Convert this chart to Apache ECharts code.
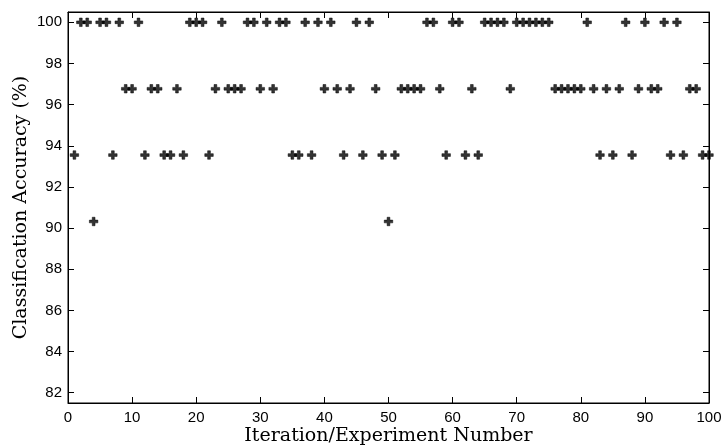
<!DOCTYPE html>
<html>
<head>
<meta charset="utf-8">
<style>
  html, body { margin: 0; padding: 0; background: #fff; }
  #chart { width: 722px; height: 448px; }
</style>
<script src="https://cdn.jsdelivr.net/npm/echarts@6/dist/echarts.min.js"></script>
</head>
<body>
<div id="chart"></div>
<script>
// Iteration numbers (1..100) and the accuracy reached in each run (%)
const iterations = [
  1, 2, 3, 4, 5, 6, 7, 8, 9, 10,
  11, 12, 13, 14, 15, 16, 17, 18, 19, 20,
  21, 22, 23, 24, 25, 26, 27, 28, 29, 30,
  31, 32, 33, 34, 35, 36, 37, 38, 39, 40,
  41, 42, 43, 44, 45, 46, 47, 48, 49, 50,
  51, 52, 53, 54, 55, 56, 57, 58, 59, 60,
  61, 62, 63, 64, 65, 66, 67, 68, 69, 70,
  71, 72, 73, 74, 75, 76, 77, 78, 79, 80,
  81, 82, 83, 84, 85, 86, 87, 88, 89, 90,
  91, 92, 93, 94, 95, 96, 97, 98, 99, 100
];
const accuracy = [
  93.55, 100, 100, 90.32, 100, 100, 93.55, 100, 96.77, 96.77,
  100, 93.55, 96.77, 96.77, 93.55, 93.55, 96.77, 93.55, 100, 100,
  100, 93.55, 96.77, 100, 96.77, 96.77, 96.77, 100, 100, 96.77,
  100, 96.77, 100, 100, 93.55, 93.55, 100, 93.55, 100, 96.77,
  100, 96.77, 93.55, 96.77, 100, 93.55, 100, 96.77, 93.55, 90.32,
  93.55, 96.77, 96.77, 96.77, 96.77, 100, 100, 96.77, 93.55, 100,
  100, 93.55, 96.77, 93.55, 100, 100, 100, 100, 96.77, 100,
  100, 100, 100, 100, 100, 96.77, 96.77, 96.77, 96.77, 96.77,
  100, 96.77, 93.55, 96.77, 93.55, 96.77, 100, 93.55, 96.77, 100,
  96.77, 96.77, 100, 93.55, 100, 93.55, 96.77, 96.77, 93.55, 93.55
];
// Tick values
const xTicks = [0, 10, 20, 30, 40, 50, 60, 70, 80, 90, 100];
const yTicks = [82, 84, 86, 88, 90, 92, 94, 96, 98, 100];

const points = iterations.map((it, i) => [it, accuracy[i]]);

const tickFont = { color: '#000', fontFamily: 'Liberation Sans, Arial, sans-serif', fontSize: 15 };
const titleFont = { color: '#000', fontFamily: 'DejaVu Serif, serif', fontSize: 19 };

// Bold plus-shaped marker
const plusPath = 'path://M0,2.7H2.7V0H5.3V2.7H8V5.3H5.3V8H2.7V5.3H0Z';

const chart = echarts.init(document.getElementById('chart'), null, { renderer: 'canvas' });

const tickStyle = { show: true, inside: true, length: 6, lineStyle: { color: '#000', width: 1 } };

chart.setOption({
  animation: false,
  backgroundColor: '#fff',
  grid: {
    left: 68, right: 13, top: 12, bottom: 45,
    containLabel: false, outerBoundsMode: 'none',
    show: true, borderColor: '#000', borderWidth: 1, backgroundColor: 'transparent'
  },
  xAxis: [
    {
      type: 'value', min: 0, max: 100, interval: 10, position: 'bottom',
      name: 'Iteration/Experiment Number', nameLocation: 'middle', nameGap: 24,
      nameMoveOverlap: false,
      nameTextStyle: titleFont,
      axisLine: { show: true, onZero: false, lineStyle: { color: '#000', width: 1 } },
      axisTick: Object.assign({ customValues: xTicks }, tickStyle),
      axisLabel: Object.assign({ margin: 7, customValues: xTicks }, tickFont),
      splitLine: { show: false }
    },
    {
      type: 'value', min: 0, max: 100, interval: 10, position: 'top',
      axisLine: { show: true, onZero: false, lineStyle: { color: '#000', width: 1 } },
      axisTick: Object.assign({ customValues: xTicks }, tickStyle),
      axisLabel: { show: false },
      splitLine: { show: false }
    }
  ],
  yAxis: [
    {
      type: 'value', min: 81.5, max: 100.5, position: 'left',
      name: 'Classification Accuracy (%)', nameLocation: 'middle', nameGap: 37,
      nameMoveOverlap: false,
      nameTextStyle: titleFont,
      axisLine: { show: true, onZero: false, lineStyle: { color: '#000', width: 1 } },
      axisTick: Object.assign({ customValues: yTicks }, tickStyle),
      axisLabel: Object.assign({ margin: 6, customValues: yTicks }, tickFont),
      splitLine: { show: false }
    },
    {
      type: 'value', min: 81.5, max: 100.5, position: 'right',
      axisLine: { show: true, onZero: false, lineStyle: { color: '#000', width: 1 } },
      axisTick: Object.assign({ customValues: yTicks }, tickStyle),
      axisLabel: { show: false },
      splitLine: { show: false }
    }
  ],
  series: [
    {
      type: 'scatter',
      xAxisIndex: 0, yAxisIndex: 0,
      data: points,
      symbol: plusPath,
      symbolSize: 8.5,
      clip: false,
      itemStyle: { color: '#000', borderColor: '#000', borderWidth: 0.6 }
    }
  ]
});
</script>
</body>
</html>
